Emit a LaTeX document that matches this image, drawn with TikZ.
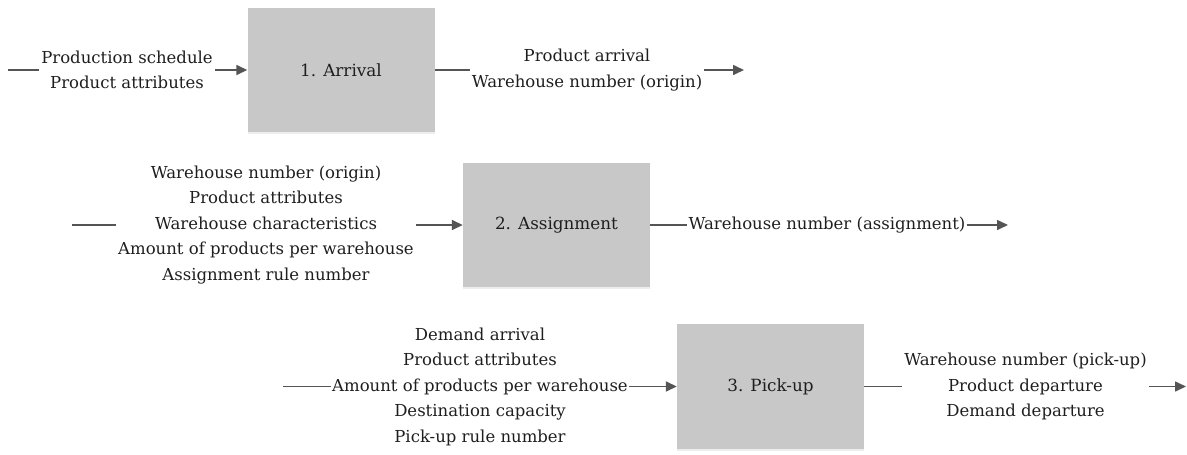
\documentclass[tikz,border=0pt]{standalone}
\usepackage{fontspec}
\setmainfont{DejaVu Serif}
\usetikzlibrary{arrows.meta,shadows}
\definecolor{boxgray}{HTML}{C8C8C8}
\definecolor{linegray}{HTML}{555555}
\definecolor{txt}{HTML}{1E1E1E}
\begin{document}
\begin{tikzpicture}[x=1pt,y=-1pt,
  proc/.style={fill=boxgray, minimum width=187pt, minimum height=124pt, inner sep=0pt, text=txt,
    font=\fontsize{16.8}{25}\selectfont,
    drop shadow={shadow xshift=0pt, shadow yshift=-2pt, opacity=0.07, fill=black}},
  lbl/.style={align=center, text=txt, font=\fontsize{16.5}{25.5}\selectfont, inner xsep=2pt, inner ysep=0pt},
  conn/.style={draw=linegray, line width=1.6pt},
  arr/.style={conn, -{Triangle[length=11pt,width=10pt]}}]
\useasboundingbox (0,0) rectangle (1187,455);

% boxes
\node[proc] (b1) at (341,70) {1. Arrival};
\node[proc] (b2) at (556.5,225) {2. Assignment};
\node[proc, minimum height=125pt] (b3) at (770.5,386.5) {3. Pick-up};

% row 1
\coordinate (s1) at (8,70);
\node[lbl] (in1) at (127,70) {Production schedule\\Product attributes};
\node[lbl] (out1) at (587,70) {Product arrival\\Warehouse number (origin)};
\coordinate (e1) at (744,70);
\draw[conn] (s1) -- (in1.west);
\draw[arr] (in1.east) -- (b1.west);
\draw[conn] (b1.east) -- (out1.west);
\draw[arr] (out1.east) -- (e1);

% row 2
\coordinate (s2) at (72,225);
\node[lbl] (in2) at (266,225) {Warehouse number (origin)\\Product attributes\\Warehouse characteristics\\Amount of products per warehouse\\Assignment rule number};
\node[lbl, inner xsep=1pt] (out2) at (827,225) {Warehouse number (assignment)};
\coordinate (e2) at (1008,225);
\draw[conn] (s2) -- (in2.west);
\draw[arr] (in2.east) -- (b2.west);
\draw[conn] (b2.east) -- (out2.west);
\draw[arr] (out2.east) -- (e2);

% row 3
\coordinate (s3) at (283,386.5);
\node[lbl, inner xsep=1pt] (in3) at (480,386.5) {Demand arrival\\Product attributes\\Amount of products per warehouse\\Destination capacity\\Pick-up rule number};
\node[lbl] (out3) at (1025.5,386.5) {Warehouse number (pick-up)\\Product departure\\Demand departure};
\coordinate (e3) at (1186,386.5);
\draw[conn] (s3) -- (in3.west);
\draw[arr] (in3.east) -- (b3.west);
\draw[conn] (b3.east) -- (out3.west);
\draw[arr] (out3.east) -- (e3);
\end{tikzpicture}
\end{document}
